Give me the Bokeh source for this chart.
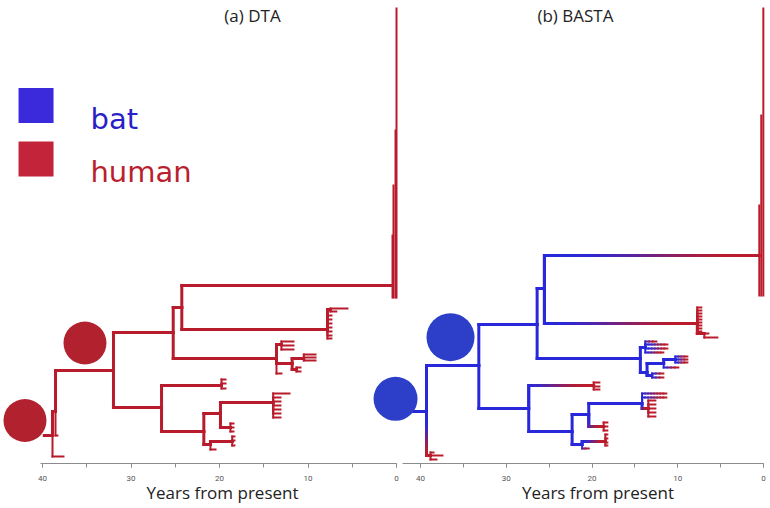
from bokeh.plotting import figure
from bokeh.models import Range1d, LinearAxis, SingleIntervalTicker, Label, ColumnDataSource
from bokeh.embed import file_html
from bokeh.resources import INLINE

# ------------------------------------------------------------------ data
# (a) DTA tree: node, parent, age (years before present), row (vertical layout slot)
dta_name = ["R", "L0", "N1", "L1", "N2", "N3", "N4", "H", "C2", "C2a", "C2a1", "C2a2",
            "C2b", "C2c", "C2d", "C2e", "C2f", "C2g", "C2h",
            "S1", "S1a", "S1a1", "S1a2", "S1a3", "S1b", "S1b1", "S1b1a", "S1b1b", "S1b1c",
            "S1b2", "S1b2a", "S1b2b", "S1c",
            "N5", "K1", "K1a", "K1b", "K1c", "N6", "N7", "K2", "K2a", "K2b", "K2c", "K2d",
            "K2e", "K2f", "K2g", "K3", "K3a", "K3b", "K3c", "K4", "K4a", "K4a1", "K4a2",
            "K4a3", "K4b"]
dta_parent = [None, "R", "R", "N1", "N1", "N2", "N3", "N4", "N4", "C2", "C2a", "C2a",
              "C2", "C2", "C2", "C2", "C2", "C2", "C2",
              "N3", "S1", "S1a", "S1a", "S1a", "S1", "S1b", "S1b1", "S1b1", "S1b1",
              "S1b", "S1b2", "S1b2", "S1",
              "N2", "N5", "K1", "K1", "K1", "N5", "N6", "N7", "K2", "K2", "K2", "K2",
              "K2", "K2", "K2", "N7", "K3", "K3", "K3", "N6", "K4", "K4a", "K4a",
              "K4a", "K4"]
dta_age = [38.87, 37.63, 38.53, 38.31, 31.98, 25.23, 24.26, 0.45, 7.80, 7.46, 5.54, 6.80,
           7.35, 7.35, 7.35, 7.35, 7.35, 7.35, 7.35,
           13.56, 13.00, 11.64, 11.64, 11.64, 11.79, 10.47, 9.15, 9.15, 9.15,
           11.30, 10.85, 10.85, 13.00,
           26.55, 19.77, 19.32, 19.32, 19.32, 21.77, 19.89, 13.93, 12.09, 13.11, 13.11, 13.11,
           13.11, 13.11, 13.11, 18.76, 18.42, 18.42, 18.42, 21.02, 18.56, 18.31, 18.31,
           18.31, 20.45]
dta_row = [28, 7, 52, 28, 93, 131, 156, 178, 134, 154, 155, 152,
           148, 144, 140, 136, 132, 128, 125,
           105, 119, 122, 118, 114, 100, 105, 109, 106, 103,
           94, 96, 92, 90,
           56, 78, 84, 80, 75, 32, 50, 61, 70, 66, 62, 58,
           54, 50, 46, 36, 40, 36, 32, 19, 22, 27, 23,
           18, 14]
dta_stem_start = 39.8
# large recent clade drawn as a comb: age of each rung, top and bottom rows
dta_comb_age = [0.45, 0.34, 0.11, 0.0]
dta_comb_top = [228, 278, 333, 455]
dta_comb_bottom = [166, 166, 166, 166]
# root-state circles
dta_marker_age = [41.98, 35.2]
dta_marker_row = [43, 120.5]

# (b) BASTA tree: node, parent, age, row, probability of the "human" state
basta_name = ["R", "L0", "L0a", "L0b", "L0c", "N2", "N3", "N4", "H", "C2",
              "C2a", "C2b", "C2c", "C2d", "C2e", "C2f", "C2g", "C2h", "C2i", "C2j", "C2j1", "C2j2",
              "S1", "S1a", "S1a1", "S1a2", "S1a3", "S1a4", "S1b", "S1b1", "S1b1a", "S1b1a1",
              "S1b1a2", "S1b1a3", "S1b1b", "S1b2", "S1b2a", "S1b2b",
              "N5", "K1", "K1a", "K1b", "K1c", "N6", "N7", "K2", "K2a", "K2b", "K2c", "K2c1",
              "K2c2", "K2c3", "K2c4", "K2c5", "K3", "K3a", "K3b", "K3c", "K4", "K4a", "K4a1",
              "K4a2", "K4a3", "K4a4", "K4b"]
basta_parent = [None, "R", "L0", "L0", "L0", "R", "N2", "N3", "N4", "N4",
                "C2", "C2", "C2", "C2", "C2", "C2", "C2", "C2", "C2", "C2", "C2j", "C2j",
                "N3", "S1", "S1a", "S1a", "S1a", "S1a", "S1", "S1b", "S1b1", "S1b1a",
                "S1b1a", "S1b1a", "S1b1", "S1b", "S1b2", "S1b2",
                "N2", "N5", "K1", "K1", "K1", "N5", "N6", "N7", "K2", "K2", "K2", "K2c",
                "K2c", "K2c", "K2c", "K2c", "N7", "K3", "K3", "K3", "N6", "K4", "K4a",
                "K4a", "K4a", "K4a", "K4"]
basta_age = [39.30, 38.83, 38.48, 37.44, 38.14, 33.20, 26.40, 25.55, 0.49, 7.72,
             7.25, 7.25, 7.25, 7.25, 7.25, 7.25, 7.25, 7.25, 7.25, 6.90, 5.38, 6.43,
             14.36, 13.78, 12.49, 11.21, 11.21, 11.68, 13.58, 11.64, 10.28, 8.88,
             8.88, 8.88, 9.93, 13.00, 11.68, 11.68,
             27.38, 19.80, 19.14, 19.14, 19.14, 22.32, 20.38, 14.16, 11.33, 11.33, 13.43, 12.61,
             12.61, 12.61, 12.61, 12.61, 18.64, 18.21, 18.21, 18.21, 21.15, 18.44, 18.21,
             18.21, 18.21, 18.21, 20.38]
basta_row = [52, 8, 11, 8, 4, 98, 139, 175, 208, 140,
             156, 153, 150, 147, 144, 141, 138, 135, 132, 130, 126, 130,
             105, 116, 122, 119, 115, 111, 91, 100, 104, 107,
             104, 101, 96, 88, 90, 86,
             55, 78, 81, 77, 74, 32, 49, 60, 70, 66, 55, 63,
             59, 55, 51, 47, 37, 41, 37, 33, 19, 22, 29,
             25, 21, 18, 15]
basta_human = [0, 1, 1, 1, 1, 0, 0, 0, 1, 1,
               1, 1, 1, 1, 1, 1, 1, 1, 1, 1, 1, 1,
               0, 0, 1, 1, 1, 1, 0, 0, 0, 1,
               1, 1, 1, 0, 1, 1,
               0, 1, 1, 1, 1, 0, 0, 0, 1, 1, 1, 1,
               1, 1, 1, 1, 1, 1, 1, 1, 0, 1, 1,
               1, 1, 1, 1]
basta_stem_start = 42.91
basta_comb_age = [0.49, 0.26, 0.02]
basta_comb_top = [258, 348, 455]
basta_comb_bottom = [168, 168, 168]
basta_marker_age = [42.91, 36.50]
basta_marker_row = [64.7, 126.3]

legend_labels = ["bat", "human"]
axis_title = "Years from present"
panel_titles = ["(a) DTA", "(b) BASTA"]

# ------------------------------------------------------------------ layout / style
W, H = 770, 508
DTA_PX40, DTA_PX0 = 42.0, 396.0          # pixel columns of the 40 and 0 year marks
BASTA_PX40, BASTA_PX0 = 420.0, 763.0
ROW_MIN, ROW_MAX = -45, 463
BAT_RGB = (40, 40, 218)
HUMAN_RGB = (186, 28, 44)
DTA_RED = "#b81c2c"
GRAD_START, GRAD_END = 0.22, 0.92        # part of a branch over which the colour changes


def year_range(px40, px0):
    s = (px0 - px40) / 40.0
    return Range1d(40 + px40 / s, 40 - (W - px40) / s)


def mix(f):
    return "#%02x%02x%02x" % tuple(int(round(a + (b - a) * f)) for a, b in zip(BAT_RGB, HUMAN_RGB))


def ease(f):
    t = min(1.0, max(0.0, (f - GRAD_START) / (GRAD_END - GRAD_START)))
    return t * t * (3 - 2 * t)


p = figure(width=W, height=H, x_range=year_range(DTA_PX40, DTA_PX0),
           y_range=Range1d(ROW_MIN, ROW_MAX), output_backend="svg", toolbar_location=None,
           x_axis_location=None, y_axis_location=None, min_border=0,
           outline_line_color=None, background_fill_color="white", border_fill_color="white")
p.extra_x_ranges = {"basta": year_range(BASTA_PX40, BASTA_PX0)}
p.grid.visible = False

px_year_b = (BASTA_PX0 - BASTA_PX40) / 40.0
px_row = H / (ROW_MAX - ROW_MIN)


def tree_segments(names, parents, ages, rows, human=None):
    idx = {n: i for i, n in enumerate(names)}
    has_child = set(pp for pp in parents if pp is not None)
    seg = dict(x0=[], y0=[], x1=[], y1=[], c=[], w=[])

    def put(a0, r0, a1, r1, col, wd):
        seg["x0"].append(a0); seg["y0"].append(r0)
        seg["x1"].append(a1); seg["y1"].append(r1)
        seg["c"].append(col); seg["w"].append(wd)

    for i, par in enumerate(parents):
        if par is None:
            continue
        j = idx[par]
        pa, pr, ca, cr = ages[j], rows[j], ages[i], rows[i]
        wd = 3 if (names[i] in has_child or names[i] == "H") else 2
        if human is None:
            if cr != pr:
                put(pa, pr, pa, cr, DTA_RED, wd)
            put(pa, cr, ca, cr, DTA_RED, wd)
            continue
        h0, h1 = human[j], human[i]
        lv = abs(cr - pr) * px_row
        lh = abs(pa - ca) * px_year_b
        tot = lv + lh
        if h0 == h1 or tot == 0:
            col = mix(h0)
            if cr != pr:
                put(pa, pr, pa, cr, col, wd)
            put(pa, cr, ca, cr, col, wd)
            continue
        nv = max(1, int(lv / 3)) if lv > 0 else 0
        nh = max(1, int(lh / 3))
        for k in range(nv):
            f = ease((lv * (k + 0.5) / nv) / tot)
            r0 = pr + (cr - pr) * k / nv
            r1 = pr + (cr - pr) * (k + 1) / nv
            put(pa, r0, pa, r1, mix(h0 + (h1 - h0) * f), wd)
        for k in range(nh):
            f = ease((lv + lh * (k + 0.5) / nh) / tot)
            a0 = pa + (ca - pa) * k / nh
            a1 = pa + (ca - pa) * (k + 1) / nh
            put(a0, cr, a1, cr, mix(h0 + (h1 - h0) * f), wd)
    return seg


# ---- (a) DTA
dseg = tree_segments(dta_name, dta_parent, dta_age, dta_row)
root = dta_name.index("R")
dseg["x0"].append(dta_stem_start); dseg["y0"].append(dta_row[root])
dseg["x1"].append(dta_age[root]); dseg["y1"].append(dta_row[root])
dseg["c"].append(DTA_RED); dseg["w"].append(3)
for a, t, b in zip(dta_comb_age, dta_comb_top, dta_comb_bottom):
    dseg["x0"].append(a); dseg["y0"].append(b); dseg["x1"].append(a); dseg["y1"].append(t)
    dseg["c"].append(DTA_RED); dseg["w"].append(2)
p.segment("x0", "y0", "x1", "y1", line_color="c", line_width="w", line_cap="square",
          source=ColumnDataSource(dseg))

# ---- (b) BASTA
bseg = tree_segments(basta_name, basta_parent, basta_age, basta_row, basta_human)
rb = basta_name.index("R")
bseg["x0"].append(basta_stem_start); bseg["y0"].append(basta_row[rb])
bseg["x1"].append(basta_age[rb]); bseg["y1"].append(basta_row[rb])
bseg["c"].append(mix(0)); bseg["w"].append(3)
for a, t, b in zip(basta_comb_age, basta_comb_top, basta_comb_bottom):
    bseg["x0"].append(a); bseg["y0"].append(b); bseg["x1"].append(a); bseg["y1"].append(t)
    bseg["c"].append(mix(1)); bseg["w"].append(2)
p.segment("x0", "y0", "x1", "y1", line_color="c", line_width="w", line_cap="square",
          source=ColumnDataSource(bseg), x_range_name="basta")

# ---- root-state circles
p.scatter(dta_marker_age, dta_marker_row, size=[43, 43], fill_color="#b1222e",
          line_color=None, marker="circle")
p.scatter(basta_marker_age, basta_marker_row, size=[44, 48], fill_color="#2d3fc8",
          line_color=None, marker="circle", x_range_name="basta")

# ---- legend (squares + labels)
p.scatter([40.73, 40.73], [358, 304.5], size=35, marker="square",
          fill_color=["#3b29dc", "#c4243a"], line_color=None)
for txt, row, col in zip(legend_labels, [345, 291.5], ["#2a1fc4", "#bb1e2e"]):
    p.add_layout(Label(x=34.58, y=row, text=txt, text_align="left", text_baseline="alphabetic",
                       text_font="DejaVu Sans", text_font_size="29px", text_color=col))

# ---- axes
for rng, bnd in (("default", (0, 40.2)), ("basta", (0, 42.1))):
    ax = LinearAxis(x_range_name=rng, fixed_location=0, bounds=bnd,
                    ticker=SingleIntervalTicker(interval=10, num_minor_ticks=2))
    ax.axis_line_color = "#8c8c8c"
    ax.major_tick_line_color = "#8c8c8c"
    ax.minor_tick_line_color = "#8c8c8c"
    ax.major_tick_in = 0
    ax.major_tick_out = 4
    ax.minor_tick_in = 0
    ax.minor_tick_out = 4
    ax.major_label_standoff = 8
    ax.major_label_text_font = "Roboto"
    ax.major_label_text_font_size = "8px"
    ax.major_label_text_color = "#555555"
    p.add_layout(ax, "below")

# ---- titles
p.add_layout(Label(x=16.27, y=448.5, text=panel_titles[0], text_align="center",
                   text_baseline="middle", text_font="Open Sans", text_font_size="17px",
                   text_color="#222222"))
p.add_layout(Label(x=21.93, y=448.5, text=panel_titles[1], text_align="center",
                   text_baseline="middle", text_font="Open Sans", text_font_size="17px",
                   text_color="#222222", x_range_name="basta"))
p.add_layout(Label(x=19.66, y=-29, text=axis_title, text_align="center",
                   text_baseline="middle", text_font="Open Sans", text_font_size="17px",
                   text_color="#222222"))
p.add_layout(Label(x=19.31, y=-29, text=axis_title, text_align="center",
                   text_baseline="middle", text_font="Open Sans", text_font_size="17px",
                   text_color="#222222", x_range_name="basta"))

open("out.html", "w").write(file_html(p, INLINE))
